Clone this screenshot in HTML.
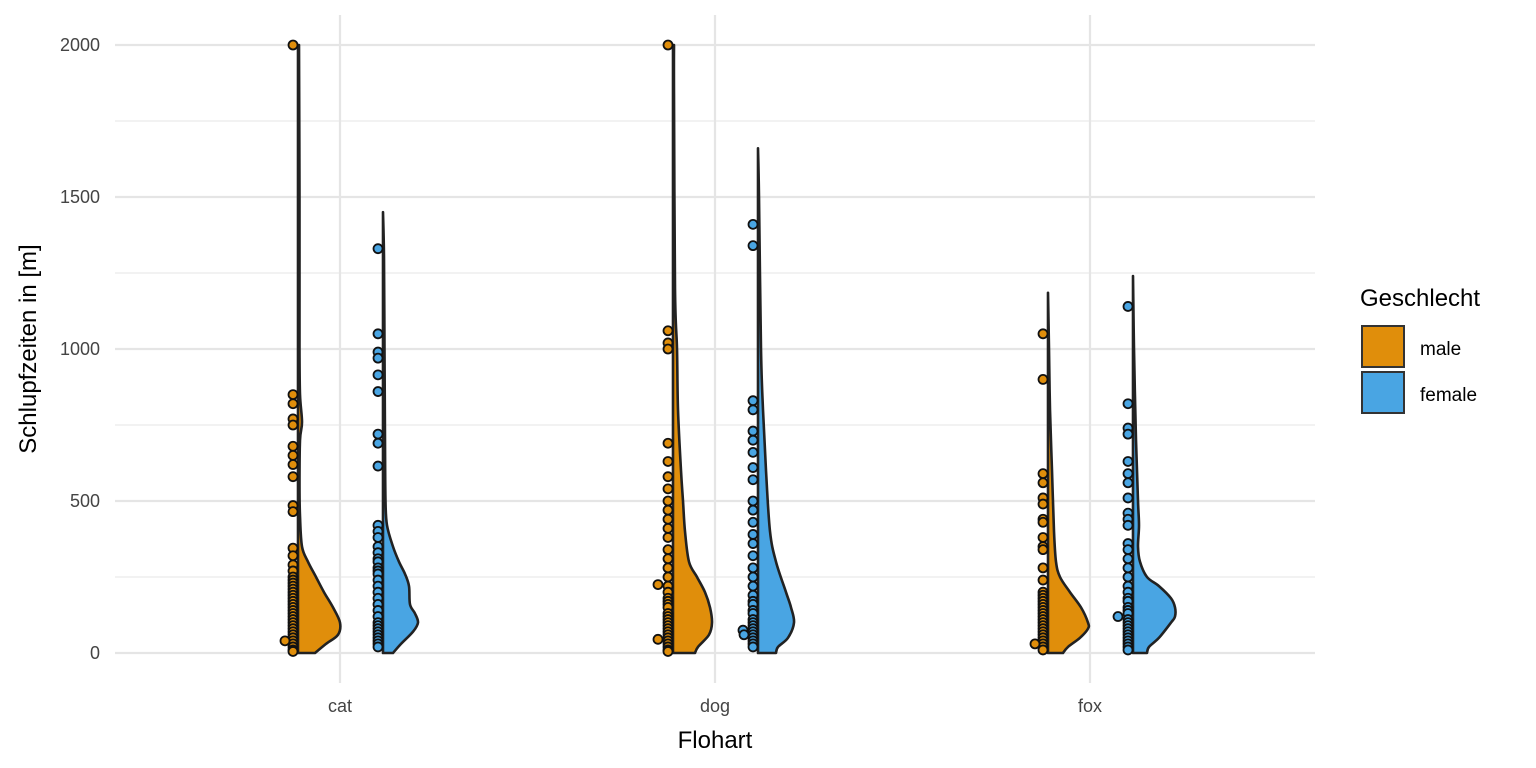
<!DOCTYPE html>
<html><head><meta charset="utf-8"><style>
html,body{margin:0;padding:0;background:#fff;}
svg{display:block;font-family:"Liberation Sans",Arial,sans-serif;}
</style></head><body>
<svg id="chart" width="1536" height="768" viewBox="0 0 1536 768" xmlns="http://www.w3.org/2000/svg">
<g id="grid"></g>
<g id="marks"></g>
<g id="axes"></g>
<text x="715" y="748" font-size="24" text-anchor="middle" fill="#000">Flohart</text>
<text transform="translate(36,349) rotate(-90)" font-size="24" text-anchor="middle" fill="#000">Schlupfzeiten in [m]</text>
<g>
<text x="1360" y="306" font-size="24" fill="#000">Geschlecht</text>
<rect x="1362" y="326" width="42" height="41" fill="#E08E0B" stroke="#333" stroke-width="2"/>
<text x="1420" y="355" font-size="19" fill="#000">male</text>
<rect x="1362" y="372" width="42" height="41" fill="#49A5E3" stroke="#333" stroke-width="2"/>
<text x="1420" y="401" font-size="19" fill="#000">female</text>
</g>
</svg>
<script>
const categories = ["cat","dog","fox"];
const groups = ["male","female"];
const yTicks = [0,500,1000,1500,2000];
const yMinor = [250,750,1250,1750];
// density profiles: [value, halfwidth]
const densCatMale = [[0,17],[30,28],[60,40],[100,42],[150,35],[200,26],[250,18],[300,10],[350,4],[450,2],[550,1.5],[700,2],[760,4],[850,2],[1000,1.5],[1500,1.5],[2000,1]];
const densCatFemale = [[0,10],[30,18],[70,30],[100,35],[130,32],[160,27],[220,26],[260,22],[300,16],[350,10],[420,4],[500,2.5],[700,2],[1000,1.5],[1300,1],[1450,0]];
const densDogMale = [[0,22],[20,25],[60,36],[100,39],[150,37],[200,32],[250,24],[300,16],[400,12],[500,10],[600,8],[800,5],[1000,4],[1200,2],[1840,1],[2000,1]];
const densDogFemale = [[0,18],[20,20],[50,30],[100,36],[150,33],[200,28],[300,18],[400,12],[600,8],[800,5],[1000,3],[1500,1],[1660,0]];
const densFoxMale = [[0,15],[20,20],[50,32],[80,40],[100,40],[150,33],[200,22],[250,12],[300,8],[400,6],[600,4],[800,2],[1000,1],[1185,0]];
const densFoxFemale = [[0,14],[20,16],[50,26],[100,38],[120,42],[150,42],[180,38],[220,26],[250,14],[300,7],[350,5],[420,6],[500,5],[700,3],[1000,1],[1240,0]];
const ptsCatMale = [2000,850,820,770,750,680,650,620,580,485,465,345,320,290,270,250,240,230,220,210,200,190,180,170,160,150,140,130,120,110,100,90,80,70,60,50,40,30,20,10,5];
const ptsCatFemale = [1330,1050,990,970,915,860,720,690,615,420,400,380,350,330,310,300,280,270,260,240,220,200,180,160,140,120,100,90,80,70,60,50,40,30,20];
const ptsDogMale = [2000,1060,1020,1000,690,630,580,540,500,470,440,410,380,340,310,280,250,220,200,180,170,160,150,130,120,110,100,90,80,70,60,50,40,30,20,10,5];
const ptsDogFemale = [1410,1340,830,800,730,700,660,610,570,500,470,430,390,360,320,280,250,220,190,170,160,140,130,110,100,90,80,70,60,50,40,30,20];
const ptsFoxMale = [1050,900,590,560,510,490,440,430,380,350,340,280,240,200,190,180,170,160,150,140,130,120,110,100,90,80,70,60,50,40,30,20,10];
const ptsFoxFemale = [1140,820,740,720,630,590,560,510,460,440,420,360,340,310,280,250,220,200,180,170,150,140,130,110,100,90,80,70,60,50,40,30,20,10];
const outliers = [["cat","male",40,-8],["dog","male",225,-10],["dog","male",45,-10],["dog","female",75,-10],["dog","female",60,-9],["fox","male",30,-8],["fox","female",120,-10]];

const NS="http://www.w3.org/2000/svg";
const X0=115,X1=1315,Y0=653,Y1=45;
function yScale(v){return Y0-(v/2000)*(Y0-Y1);}
function xCat(c){return 340+categories.indexOf(c)*375;}
function xBase(c,g){return xCat(c)+(g==="male"?-42:43);}
const colors={male:"#E08E0B",female:"#49A5E3"};
function mk(tag,attrs,parent){const e=document.createElementNS(NS,tag);for(const k in attrs)e.setAttribute(k,attrs[k]);parent.appendChild(e);return e;}
const grid=document.getElementById("grid"),marks=document.getElementById("marks"),axes=document.getElementById("axes");
yMinor.forEach(v=>{const l=mk("line",{x1:X0,x2:X1,y1:yScale(v),y2:yScale(v),stroke:"#ebebeb","stroke-width":1.2},grid);

});
yTicks.forEach(v=>{const l=mk("line",{x1:X0,x2:X1,y1:yScale(v),y2:yScale(v),stroke:"#e5e5e5","stroke-width":2.2},grid);


const t=mk("text",{x:100,y:yScale(v)+6,"font-size":18,"text-anchor":"end",fill:"#444"},axes);t.textContent=v;

});
categories.forEach(c=>{const l=mk("line",{x1:xCat(c),x2:xCat(c),y1:15,y2:683,stroke:"#e5e5e5","stroke-width":2.2},grid);


const t=mk("text",{x:xCat(c),y:712,"font-size":18,"text-anchor":"middle",fill:"#444"},axes);t.textContent=c;

});
const dens={cat:{male:densCatMale,female:densCatFemale},dog:{male:densDogMale,female:densDogFemale},fox:{male:densFoxMale,female:densFoxFemale}};
const pts={cat:{male:ptsCatMale,female:ptsCatFemale},dog:{male:ptsDogMale,female:ptsDogFemale},fox:{male:ptsFoxMale,female:ptsFoxFemale}};
categories.forEach(c=>groups.forEach(g=>{
 const b=xBase(c,g),d=dens[c][g];
 const P=d.map(q=>[b+q[1],yScale(q[0])]);
 let p="M"+b+","+P[0][1]+" L"+P[0][0]+","+P[0][1];
 for(let i=0;i<P.length-1;i++){
  const p0=P[Math.max(0,i-1)],p1=P[i],p2=P[i+1],p3=P[Math.min(P.length-1,i+2)];
  const c1=[p1[0]+(p2[0]-p0[0])/6,p1[1]+(p2[1]-p0[1])/6],c2=[p2[0]-(p3[0]-p1[0])/6,p2[1]-(p3[1]-p1[1])/6];
  p+=" C"+c1[0]+","+c1[1]+" "+c2[0]+","+c2[1]+" "+p2[0]+","+p2[1];
 }
 p+=" L"+b+","+P[P.length-1][1]+" Z";
 const v=mk("path",{d:p,fill:colors[g],stroke:"#222","stroke-width":2.6,"stroke-linejoin":"round"},marks);
 
 
}));
categories.forEach(c=>groups.forEach(g=>{
 const b=xBase(c,g)-5;
 pts[c][g].forEach(val=>{const e=mk("circle",{cx:b,cy:yScale(val),r:4.5,fill:colors[g],stroke:"#111","stroke-width":1.8},marks);
 
 });
}));
outliers.forEach(o=>{const e=mk("circle",{cx:xBase(o[0],o[1])-5+o[3],cy:yScale(o[2]),r:4.5,fill:colors[o[1]],stroke:"#111","stroke-width":1.8},marks);

});
</script>
</body></html>
